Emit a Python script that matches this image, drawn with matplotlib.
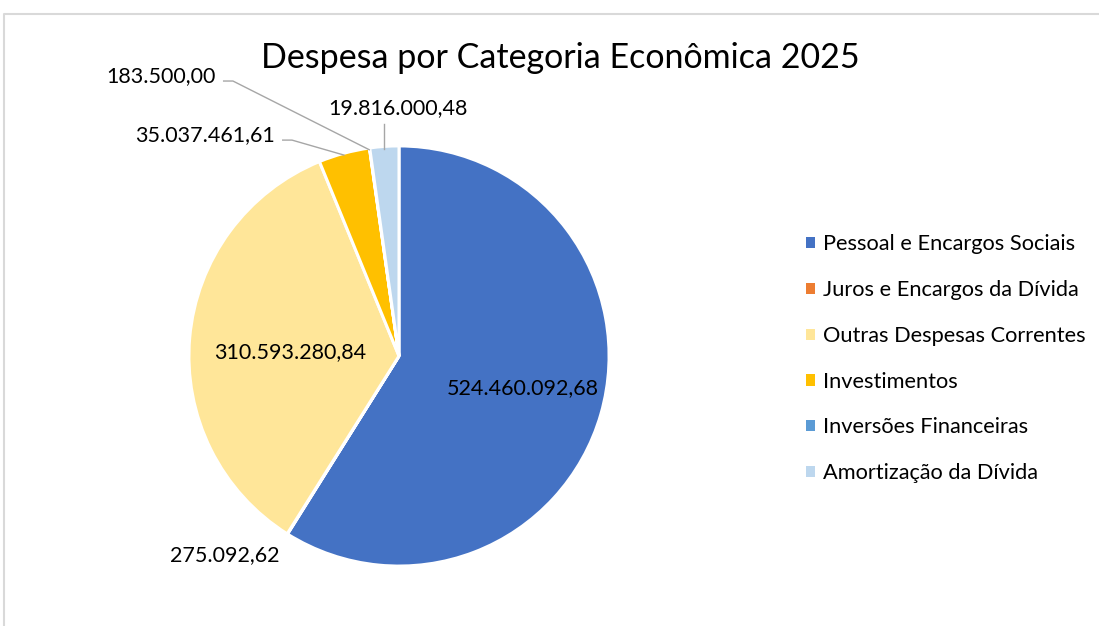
import numpy as np
import matplotlib.pyplot as plt
from matplotlib.lines import Line2D
from matplotlib.patches import Patch

plt.rcParams['font.family'] = ['Lato', 'DejaVu Sans']

titulo = 'Despesa por Categoria Econômica 2025'
categorias = ['Pessoal e Encargos Sociais', 'Juros e Encargos da Dívida',
              'Outras Despesas Correntes', 'Investimentos',
              'Inversões Financeiras', 'Amortização da Dívida']
valores = [524460092.68, 275092.62, 310593280.84, 35037461.61, 183500.00, 19816000.48]
cores = ['#4472C4', '#ED7D31', '#FFE699', '#FFC000', '#5B9BD5', '#BDD7EE']

# label placement in pie-radius units: (x, y, ha, leader)
rotulos = [
    (0.595, -0.155, 'center', None),
    (-0.837, -0.957, 'center', None),
    (-0.524, 0.02, 'center', None),
    (-0.596, 1.062, 'right', 'elbow'),
    (-0.880, 1.346, 'right', 'elbow'),
    (-0.005, 1.192, 'center', 'vertical'),
]


def fmt_br(v):
    s = f'{v:,.2f}'
    return s.replace(',', 'X').replace('.', ',').replace('X', '.')


W, H = 1099, 626
R = 208          # pie radius in px
cx, cy = 399, 356  # pie centre in px (from top-left)

fig = plt.figure(figsize=(W / 100, H / 100), dpi=100)
ax = fig.add_axes([0, 0, 1, 1])

wedges, _ = ax.pie(valores, colors=cores, startangle=90, counterclock=False,
                   radius=1.01, wedgeprops=dict(edgecolor='white', linewidth=2.2))
ax.set_xlim(-cx / R, (W - cx) / R)
ax.set_ylim(-(H - cy) / R, cy / R)
ax.set_aspect('equal')
ax.axis('off')

px = 1 / R
for w, v, (tx, ty, ha, leader) in zip(wedges, valores, rotulos):
    ax.text(tx, ty, fmt_br(v), ha=ha, va='center', fontsize=15.5, color='black')
    mid = np.deg2rad((w.theta1 + w.theta2) / 2)
    ex, ey = np.cos(mid), np.sin(mid)
    if leader == 'elbow':
        y = ty - 5 * px
        xs = [tx + 7 * px, tx + 17 * px, ex]
        ys = [y, y, ey]
        ax.plot(xs, ys, color='#A6A6A6', lw=1.0, solid_capstyle='butt')
    elif leader == 'vertical':
        ax.plot([ex, ex], [ty - 16 * px, ey], color='#A6A6A6', lw=1.0)

fig.text(560 / W, 1 - 58 / H, titulo, ha='center', va='center', fontsize=24.5)

handles = [Patch(facecolor=c, edgecolor='none') for c in cores]
fig.legend(handles=handles, labels=categorias, loc='upper left',
           bbox_to_anchor=(806 / W, 1 - 234.5 / H), frameon=False,
           fontsize=15.7, handlelength=0.42, handleheight=0.42,
           handletextpad=0.37, labelspacing=1.18, borderpad=0, borderaxespad=0)

# chart-area border (top and left edges visible)
fig.add_artist(Line2D([3.5 / W, 3.5 / W, 1], [0, 1 - 13.5 / H, 1 - 13.5 / H],
                      transform=fig.transFigure, color='#D9D9D9', lw=1.5))

fig.savefig('out.png', dpi=100)
